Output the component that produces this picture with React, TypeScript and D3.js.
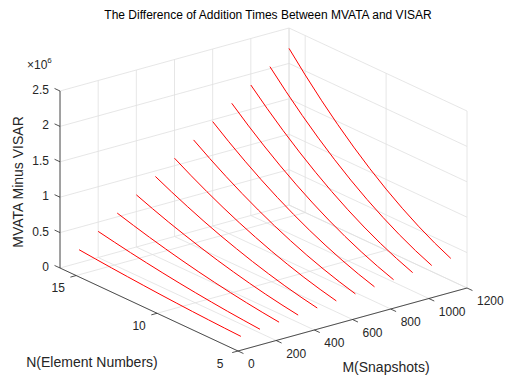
import React from "react";
import * as d3 from "d3";

// M (snapshots) of each curve, N (element numbers) along each curve
const mValues = [100, 200, 300, 400, 500, 600, 700, 800, 900, 1000, 1100, 1200];
const nValues = [6, 7, 8, 9, 10, 11, 12, 13, 14, 15, 16];

// MVATA minus VISAR, in units of 1e6, one row per M, one column per N
const differenceRows = [
  [0.026, 0.035, 0.046, 0.058, 0.072, 0.087, 0.104, 0.122, 0.141, 0.162, 0.184],
  [0.052, 0.071, 0.092, 0.117, 0.144, 0.174, 0.207, 0.243, 0.282, 0.324, 0.369],
  [0.078, 0.106, 0.138, 0.175, 0.216, 0.261, 0.311, 0.365, 0.423, 0.486, 0.553],
  [0.104, 0.141, 0.184, 0.233, 0.288, 0.348, 0.415, 0.487, 0.564, 0.648, 0.737],
  [0.130, 0.176, 0.230, 0.292, 0.360, 0.436, 0.518, 0.608, 0.706, 0.810, 0.922],
  [0.156, 0.212, 0.276, 0.350, 0.432, 0.523, 0.622, 0.730, 0.847, 0.972, 1.106],
  [0.181, 0.247, 0.323, 0.408, 0.504, 0.610, 0.726, 0.852, 0.988, 1.134, 1.290],
  [0.207, 0.282, 0.369, 0.467, 0.576, 0.697, 0.829, 0.973, 1.129, 1.296, 1.475],
  [0.233, 0.318, 0.415, 0.525, 0.648, 0.784, 0.933, 1.095, 1.270, 1.458, 1.659],
  [0.259, 0.353, 0.461, 0.583, 0.720, 0.871, 1.037, 1.217, 1.411, 1.620, 1.843],
  [0.285, 0.388, 0.507, 0.642, 0.792, 0.958, 1.140, 1.338, 1.552, 1.782, 2.028],
  [0.311, 0.423, 0.553, 0.700, 0.864, 1.045, 1.244, 1.460, 1.693, 1.944, 2.212],
];

const mTicks = [0, 200, 400, 600, 800, 1000, 1200];
const nTicks = [5, 10, 15];
const zTicks = [0, 0.5, 1, 1.5, 2, 2.5];

const W = 512;
const H = 375;
const font = "'Liberation Sans', Arial, Helvetica, sans-serif";
const axisColor = "#262626";
const gridColor = "#dfdfdf";

// oblique (orthographic) projection of the 3-D box onto the page
const origin = [238, 351]; // M=0, N=5, z=0
const mVec = [229, -63];
const nVec = [-178, -83];
const zVec = [0, -177];

const mScale = d3.scaleLinear().domain([0, 1200]).range([0, 1]);
const nScale = d3.scaleLinear().domain([5, 16]).range([0, 1]);
const zScale = d3.scaleLinear().domain([0, 2.5]).range([0, 1]);

const proj = (m: number, n: number, z: number): [number, number] => {
  const a = mScale(m), b = nScale(n), c = zScale(z);
  return [
    origin[0] + a * mVec[0] + b * nVec[0] + c * zVec[0],
    origin[1] + a * mVec[1] + b * nVec[1] + c * zVec[1],
  ];
};

const seg = (p: [number, number], q: [number, number], key: string, stroke: string, w = 0.8) => (
  <line key={key} x1={p[0]} y1={p[1]} x2={q[0]} y2={q[1]} stroke={stroke} strokeWidth={w} />
);

const App = () => {
  const [mMin, mMax] = mScale.domain();
  const [nMin, nMax] = nScale.domain();
  const [zMin, zMax] = zScale.domain();

  const grid: JSX.Element[] = [];
  // back wall at N = nMax
  mTicks.forEach((m) => grid.push(seg(proj(m, nMax, zMin), proj(m, nMax, zMax), `bm${m}`, gridColor)));
  zTicks.forEach((z) => grid.push(seg(proj(mMin, nMax, z), proj(mMax, nMax, z), `bz${z}`, gridColor)));
  // side wall at M = mMax
  [...nTicks, nMax].forEach((n) => grid.push(seg(proj(mMax, n, zMin), proj(mMax, n, zMax), `sn${n}`, gridColor)));
  zTicks.forEach((z) => grid.push(seg(proj(mMax, nMin, z), proj(mMax, nMax, z), `sz${z}`, gridColor)));
  // floor
  mTicks.forEach((m) => grid.push(seg(proj(m, nMin, zMin), proj(m, nMax, zMin), `fm${m}`, gridColor)));
  nTicks.forEach((n) => grid.push(seg(proj(mMin, n, zMin), proj(mMax, n, zMin), `fn${n}`, gridColor)));

  const line = d3.line<[number, number]>().x((d) => d[0]).y((d) => d[1]);

  const tickLen = 6;
  const unit = (v: number[]) => {
    const l = Math.hypot(v[0], v[1]);
    return [v[0] / l, v[1] / l];
  };
  const outN = unit([-nVec[0], -nVec[1]]); // ticks on M axis point to N < nMin
  const outM = unit([-mVec[0], -mVec[1]]); // ticks on N axis point to M < mMin
  const outZ = unit(nVec); // ticks on z axis point to N > nMax

  return (
    <div style={{ position: "absolute", left: 0, top: 0 }}>
      <svg width={W} height={H} style={{ display: "block", background: "#fff" }} fontFamily={font}>
        <g>{grid}</g>

        <g fill="none" stroke="#ff0000" strokeWidth={1}>
          {mValues.map((m, i) => (
            <path key={m} d={line(nValues.map((n, j) => proj(m, n, differenceRows[i][j]))) ?? ""} />
          ))}
        </g>

        {/* axes */}
        <g stroke={axisColor} strokeWidth={0.8}>
          {seg(proj(mMin, nMin, zMin), proj(mMax, nMin, zMin), "ma", axisColor)}
          {seg(proj(mMin, nMax, zMin), proj(mMin, nMin, zMin), "na", axisColor)}
          {seg(proj(mMin, nMax, zMin), proj(mMin, nMax, zMax), "za", axisColor)}
          {mTicks.map((m) => {
            const p = proj(m, nMin, zMin);
            return seg(p, [p[0] + outN[0] * tickLen, p[1] + outN[1] * tickLen], `mt${m}`, axisColor);
          })}
          {nTicks.map((n) => {
            const p = proj(mMin, n, zMin);
            return seg(p, [p[0] + outM[0] * tickLen, p[1] + outM[1] * tickLen], `nt${n}`, axisColor);
          })}
          {zTicks.map((z) => {
            const p = proj(mMin, nMax, z);
            return seg(p, [p[0] + outZ[0] * tickLen, p[1] + outZ[1] * tickLen], `zt${z}`, axisColor);
          })}
        </g>

        <g fill={axisColor} fontSize={12}>
          {mTicks.map((m) => {
            const p = proj(m, nMin, zMin);
            return (
              <text key={m} x={p[0] + 10} y={p[1] + 13} dominantBaseline="central">
                {m}
              </text>
            );
          })}
          {nTicks.map((n) => {
            const p = proj(mMin, n, zMin);
            return (
              <text key={n} x={p[0] - 18} y={p[1] + 12.5} textAnchor="middle" dominantBaseline="central">
                {n}
              </text>
            );
          })}
          {zTicks.map((z) => {
            const p = proj(mMin, nMax, z);
            return (
              <text key={z} x={p[0] - 11} y={p[1] - 1} textAnchor="end" dominantBaseline="central">
                {z}
              </text>
            );
          })}
          <text x={27} y={69}>
            ×10
            <tspan fontSize={8} dy={-6}>6</tspan>
          </text>
        </g>

        <g fill={axisColor} fontSize={14}>
          <text x={92} y={362} textAnchor="middle" dominantBaseline="central">N(Element Numbers)</text>
          <text x={386} y={367} textAnchor="middle" dominantBaseline="central">M(Snapshots)</text>
          <text
            transform="translate(18,182) rotate(-90)"
            textAnchor="middle"
            dominantBaseline="central"
          >
            MVATA Minus VISAR
          </text>
        </g>

        <text x={268} y={15} textAnchor="middle" dominantBaseline="central" fontSize={12} fill="#000">
          The Difference of Addition Times Between MVATA and VISAR
        </text>
      </svg>
    </div>
  );
};

export default App;
